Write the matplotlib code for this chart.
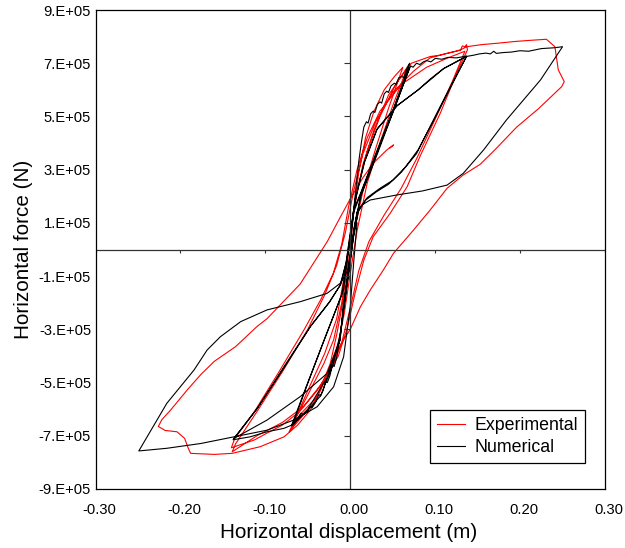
import numpy as np
import matplotlib
matplotlib.use("Agg")
import matplotlib.pyplot as plt
from matplotlib.ticker import FixedLocator, FuncFormatter
import matplotlib.transforms as mtransforms

plt.rcParams['font.family'] = ['Liberation Sans', 'DejaVu Sans']

# ---- experimental curve (red), one list per group of cycles ----
exp_disp_small = [0.0, 0.004, 0.010, 0.018, 0.028, 0.040, 0.052, 0.062,
                  0.045, 0.030, 0.015, 0.004, -0.004, -0.010, -0.016, -0.0235, -0.039, -0.059, -0.070,
                  -0.065, -0.051, -0.031, -0.0196, -0.010, -0.004, 0.0, 0.006, 0.015, 0.028, 0.045, 0.060, 0.068,
                  0.050, 0.035, 0.020, 0.008, 0.0, -0.007, -0.014, -0.025, -0.042, -0.060, -0.072,
                  -0.068, -0.050, -0.030, -0.016, -0.007, -0.001, 0.008, 0.020, 0.035, 0.055, 0.072]
exp_force_small = [0, 1.4e5, 2.9e5, 4.2e5, 5.2e5, 6.0e5, 6.5e5, 6.85e5,
                   5.3e5, 3.8e5, 2.2e5, 0.6e5, -0.8e5, -2.2e5, -3.2e5, -4.28e5, -5.53e5, -6.2e5, -6.8e5,
                   -6.4e5, -5.53e5, -4.28e5, -3.4e5, -2.0e5, -0.6e5, 0.5e5, 1.8e5, 3.2e5, 4.5e5, 5.8e5, 6.5e5, 6.9e5,
                   5.4e5, 4.0e5, 2.5e5, 0.7e5, -0.9e5, -2.4e5, -3.5e5, -4.5e5, -5.7e5, -6.4e5, -6.85e5,
                   -6.6e5, -5.3e5, -3.9e5, -2.6e5, -1.0e5, 0.4e5, 2.2e5, 3.7e5, 5.0e5, 6.3e5, 7.0e5]

exp_disp_mid = [0.085, 0.094, 0.105, 0.114, 0.125, 0.130, 0.132, 0.135, 0.137, 0.138,
                0.125, 0.106, 0.082, 0.067, 0.047, 0.027, 0.016, 0.006, -0.004, -0.014, -0.025, -0.039, -0.060, -0.080, -0.098, -0.113, -0.140,
                -0.136, -0.113, -0.084, -0.055, -0.035, -0.020, -0.010, -0.002, 0.008, 0.020, 0.035, 0.060, 0.090, 0.115, 0.135,
                0.120, 0.100, 0.078, 0.060, 0.040, 0.022, 0.010, 0.0, -0.010, -0.020, -0.035, -0.055, -0.080, -0.110, -0.139,
                -0.135, -0.110, -0.080, -0.050, -0.030, -0.016, -0.006, 0.004, 0.015, 0.030, 0.050, 0.0745]
exp_force_mid = [7.15e5, 7.25e5, 7.3e5, 7.37e5, 7.45e5, 7.5e5, 7.65e5, 7.62e5, 7.7e5, 7.5e5,
                 6.6e5, 5.12e5, 3.49e5, 2.36e5, 1.36e5, 0.48e5, -0.4e5, -1.6e5, -3.0e5, -4.0e5, -4.6e5, -5.3e5, -6.1e5, -6.6e5, -6.9e5, -7.16e5, -7.45e5,
                 -7.1e5, -6.1e5, -4.6e5, -3.05e5, -1.9e5, -0.9e5, 0.2e5, 1.6e5, 3.0e5, 4.2e5, 5.2e5, 6.2e5, 6.85e5, 7.2e5, 7.45e5,
                 6.3e5, 4.9e5, 3.4e5, 2.3e5, 1.3e5, 0.3e5, -0.8e5, -2.2e5, -3.5e5, -4.3e5, -5.1e5, -5.9e5, -6.5e5, -7.0e5, -7.6e5,
                 -7.3e5, -6.1e5, -4.6e5, -3.0e5, -1.7e5, -0.6e5, 0.6e5, 2.2e5, 3.6e5, 4.8e5, 5.9e5, 6.7e5]

exp_disp_big = [0.094, 0.114, 0.130, 0.137, 0.155, 0.173, 0.195, 0.212, 0.231, 0.241, 0.245, 0.252, 0.249,
                0.222, 0.196, 0.172, 0.153, 0.133, 0.114, 0.094, 0.0745, 0.051, 0.039, 0.024, 0.012, 0.0, -0.012,
                -0.0235, -0.035, -0.047, -0.062, -0.078, -0.106, -0.139, -0.160, -0.188, -0.191, -0.195, -0.204, -0.218, -0.226,
                -0.222, -0.212, -0.192, -0.176, -0.160, -0.135, -0.110, -0.098, -0.080, -0.059, -0.043, -0.027, -0.012, 0.0,
                0.015, 0.027, 0.043, 0.051, 0.047]
exp_force_big = [7.2e5, 7.37e5, 7.5e5, 7.62e5, 7.7e5, 7.75e5, 7.82e5, 7.86e5, 7.9e5, 7.62e5, 6.75e5, 6.31e5, 6.12e5,
                 5.3e5, 4.6e5, 3.8e5, 3.2e5, 2.8e5, 2.3e5, 1.48e5, 0.73e5, -0.14e5, -0.77e5, -1.5e5, -2.15e5, -3.0e5, -3.6e5,
                 -4.4e5, -5.3e5, -6.03e5, -6.6e5, -7.04e5, -7.41e5, -7.66e5, -7.7e5, -7.66e5, -7.45e5, -7.1e5, -6.85e5, -6.8e5, -6.65e5,
                 -6.4e5, -6.05e5, -5.28e5, -4.7e5, -4.2e5, -3.65e5, -2.9e5, -2.6e5, -2.0e5, -1.3e5, -0.5e5, 0.3e5, 1.2e5, 1.9e5,
                 2.7e5, 3.24e5, 3.74e5, 3.93e5, 3.82e5]

# ---- numerical curve (black) ----
num_disp_small = [0.0, 0.003, 0.007, 0.010, 0.013, 0.016, 0.019, 0.021, 0.024, 0.027, 0.029, 0.032, 0.035, 0.037,
                  0.040, 0.043, 0.045, 0.048, 0.052, 0.054, 0.057, 0.061, 0.063, 0.066, 0.070,
                  0.050, 0.030, 0.012, 0.005, 0.0, -0.005, -0.010, -0.0157, -0.019, -0.021, -0.024, -0.027, -0.029,
                  -0.032, -0.035, -0.037, -0.041, -0.045, -0.047, -0.051, -0.056, -0.058, -0.063, -0.069,
                  -0.050, -0.030, -0.008, -0.002, 0.004, 0.012, 0.030, 0.050, 0.070,
                  0.052, 0.032, 0.013, 0.005, 0.0, -0.006, -0.012, -0.020, -0.035, -0.050, -0.060, -0.068,
                  -0.052, -0.032, -0.010, -0.003, 0.004, 0.013, 0.032, 0.052, 0.071]
num_force_small = [0, 1.2e5, 2.4e5, 3.3e5, 4.0e5, 4.6e5, 4.8e5, 4.75e5, 5.1e5, 5.2e5, 5.15e5, 5.45e5, 5.55e5, 5.5e5,
                   5.85e5, 5.95e5, 5.9e5, 6.15e5, 6.25e5, 6.2e5, 6.45e5, 6.5e5, 6.45e5, 6.75e5, 7.0e5,
                   5.2e5, 3.5e5, 2.0e5, 0.8e5, -0.5e5, -1.6e5, -2.8e5, -4.03e5, -4.4e5, -4.35e5, -4.75e5, -5.0e5, -4.95e5,
                   -5.3e5, -5.5e5, -5.45e5, -5.75e5, -5.95e5, -5.9e5, -6.1e5, -6.2e5, -6.15e5, -6.4e5, -6.6e5,
                   -5.0e5, -3.35e5, -1.52e5, 0.0, 1.5e5, 2.1e5, 3.6e5, 5.2e5, 6.85e5,
                   5.3e5, 3.6e5, 2.05e5, 0.9e5, -0.4e5, -1.9e5, -3.2e5, -4.3e5, -5.5e5, -6.05e5, -6.35e5, -6.6e5,
                   -5.2e5, -3.5e5, -1.7e5, -0.2e5, 1.4e5, 2.15e5, 3.7e5, 5.3e5, 6.9e5]

num_disp_mid = [0.074, 0.078, 0.082, 0.086, 0.090, 0.095, 0.100, 0.108, 0.115, 0.125, 0.137,
                0.120, 0.100, 0.080, 0.065, 0.050, 0.035, 0.020, 0.010, 0.004, -0.002, -0.008, -0.012, -0.027,
                -0.050, -0.069, -0.078, -0.098, -0.118, -0.138,
                -0.110, -0.078, -0.047, -0.025, -0.012, -0.005, 0.0, 0.006, 0.016, 0.031, 0.055, 0.080, 0.094, 0.110, 0.137,
                0.120, 0.100, 0.078, 0.060, 0.045, 0.030, 0.018, 0.009, 0.003, -0.003, -0.008, -0.012, -0.027,
                -0.059, -0.098, -0.137,
                -0.108, -0.076, -0.046, -0.024, -0.011, -0.004, 0.001, 0.007, 0.017, 0.032, 0.055, 0.080, 0.094, 0.110, 0.136]
num_force_mid = [6.85e5, 7.0e5, 6.95e5, 7.05e5, 7.1e5, 7.05e5, 7.18e5, 7.15e5, 7.22e5, 7.2e5, 7.27e5,
                 6.2e5, 4.95e5, 3.75e5, 3.1e5, 2.6e5, 2.3e5, 1.95e5, 1.5e5, 0.5e5, -0.8e5, -2.0e5, -3.4e5, -4.8e5,
                 -6.0e5, -6.6e5, -6.72e5, -6.85e5, -7.04e5, -7.15e5,
                 -6.0e5, -4.4e5, -2.9e5, -2.0e5, -1.35e5, -0.5e5, 0.6e5, 1.9e5, 3.24e5, 4.49e5, 5.4e5, 6.0e5, 6.37e5, 6.8e5, 7.25e5,
                 6.25e5, 5.0e5, 3.6e5, 2.9e5, 2.45e5, 2.15e5, 1.85e5, 1.4e5, 0.4e5, -0.9e5, -2.2e5, -3.4e5, -4.65e5,
                 -5.53e5, -6.41e5, -7.1e5,
                 -5.9e5, -4.35e5, -2.85e5, -1.95e5, -1.3e5, -0.4e5, 0.7e5, 2.0e5, 3.3e5, 4.55e5, 5.4e5, 6.0e5, 6.4e5, 6.8e5, 7.25e5]

num_disp_big = [0.145, 0.152, 0.160, 0.165, 0.169, 0.172, 0.180, 0.190, 0.200, 0.210, 0.225, 0.240, 0.250,
                0.224, 0.184, 0.157, 0.133, 0.114, 0.085, 0.055, 0.0235, 0.0137, 0.008, 0.003, -0.003, -0.0118,
                -0.0274, -0.0588, -0.098, -0.129, -0.153, -0.1686, -0.184, -0.216, -0.249,
                -0.216, -0.176, -0.137, -0.098, -0.0667, -0.039, -0.0196, -0.0078, 0.0, 0.004, 0.008]
num_force_big = [7.3e5, 7.35e5, 7.38e5, 7.35e5, 7.45e5, 7.37e5, 7.4e5, 7.42e5, 7.47e5, 7.45e5, 7.55e5, 7.58e5, 7.62e5,
                 6.37e5, 4.87e5, 3.74e5, 2.86e5, 2.42e5, 2.2e5, 2.05e5, 1.86e5, 1.67e5, 1.42e5, 0.5e5, -0.8e5, -1.27e5,
                 -1.65e5, -1.96e5, -2.27e5, -2.71e5, -3.28e5, -3.78e5, -4.53e5, -5.78e5, -7.57e5,
                 -7.47e5, -7.29e5, -7.04e5, -6.79e5, -6.41e5, -5.91e5, -5.16e5, -4.03e5, -2.15e5, -0.5e5, 1.0e5]

x_ticks = [-0.30, -0.20, -0.10, 0.00, 0.10, 0.20, 0.30]
y_ticks = [-9e5, -7e5, -5e5, -3e5, -1e5, 1e5, 3e5, 5e5, 7e5, 9e5]

exp_x = np.concatenate([exp_disp_small, exp_disp_mid, exp_disp_big])
exp_y = np.concatenate([exp_force_small, exp_force_mid, exp_force_big])
num_x = np.concatenate([num_disp_small, num_disp_mid, num_disp_big])
num_y = np.concatenate([num_force_small, num_force_mid, num_force_big])

fig = plt.figure(figsize=(6.25, 5.48), dpi=100)
ax = fig.add_axes([95.5 / 625, 1 - 489 / 548, 509.5 / 625, 479 / 548])

ax.plot(exp_x, exp_y, color='#ff0000', lw=0.8, label='Experimental')
ax.plot(num_x, num_y, color='black', lw=0.8, label='Numerical')

# axes through the origin with their own tick marks
ax.axhline(0, color='#333333', lw=0.9)
ax.axvline(0, color='#333333', lw=0.9)
ax.plot(np.zeros(len(y_ticks)), y_ticks, ls='none', marker=0, ms=4, mew=0.8, color='#333333')
ax.plot(x_ticks, np.zeros(len(x_ticks)), ls='none', marker=3, ms=2.5, mew=0.8, color='#333333')

ax.set_xlim(-0.3, 0.3)
ax.set_ylim(-9e5, 9e5)
ax.xaxis.set_major_locator(FixedLocator(x_ticks))
ax.yaxis.set_major_locator(FixedLocator(y_ticks))
ax.xaxis.set_major_formatter(FuncFormatter(lambda v, p: f"{v:.2f}".replace("-0.00", "0.00")))
ax.yaxis.set_major_formatter(FuncFormatter(lambda v, p: f"{v / 1e5:.0f}.E+05"))
ax.tick_params(axis='both', length=0, labelsize=10.6, colors='black')
ax.tick_params(axis='x', pad=10)
ax.tick_params(axis='y', pad=3.2)
shift = mtransforms.ScaledTranslation(4 / 100, 0, fig.dpi_scale_trans)
for lab in ax.get_xticklabels():
    lab.set_transform(lab.get_transform() + shift)

for s in ax.spines.values():
    s.set_linewidth(0.9)
    s.set_color('black')

ax.set_xlabel('Horizontal displacement (m)', fontsize=14.9)
ax.set_ylabel('Horizontal force (N)', fontsize=14.9)
ax.xaxis.set_label_coords(0.4966, -0.071)
ax.yaxis.set_label_coords(-0.142, 0.5)
ax.yaxis.label.set_verticalalignment('center')

leg = ax.legend(loc='lower right', bbox_to_anchor=(0.9607, 0.0543), borderaxespad=0,
                fontsize=12.75, fancybox=False, framealpha=1, edgecolor='black',
                handlelength=1.6, handletextpad=0.5, labelspacing=0.25, borderpad=0.4)
leg.get_frame().set_linewidth(0.9)

fig.savefig('out.png', dpi=100)
